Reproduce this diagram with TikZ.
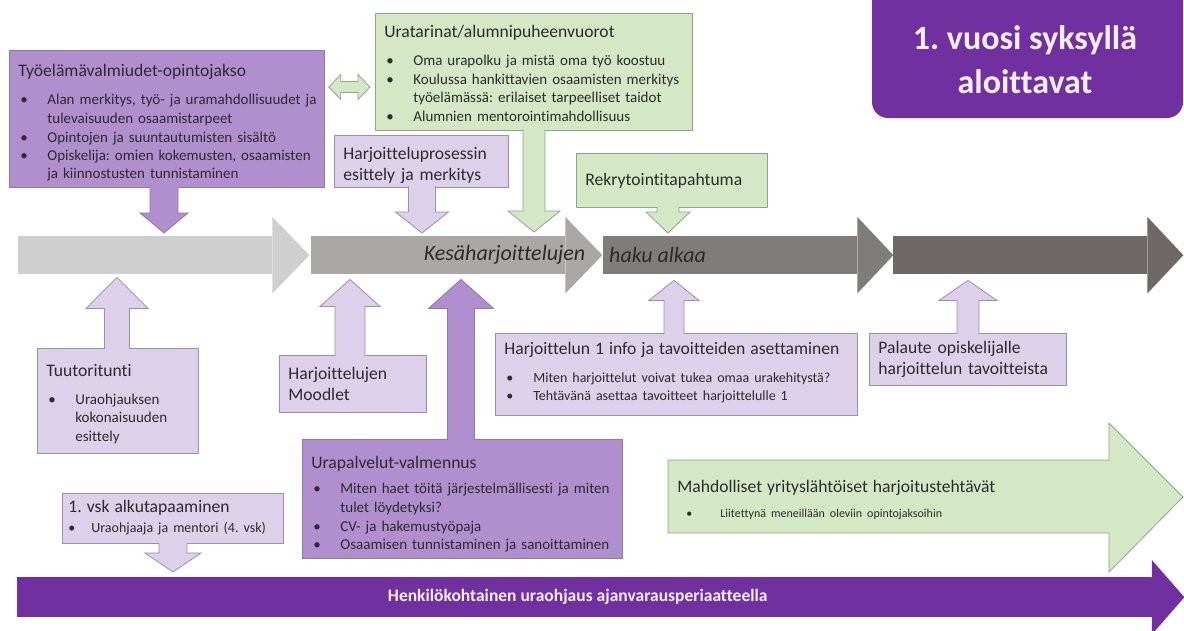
\documentclass[tikz,border=0pt]{standalone}
\usepackage{fontspec}
\setmainfont[Ligatures={NoCommon}]{Carlito}
\usepackage{tikz}
\usetikzlibrary{calc}
\definecolor{purmid}{HTML}{B18FCF}
\definecolor{purmidline}{HTML}{8A7BA6}
\definecolor{purlight}{HTML}{DDD0EA}
\definecolor{purlightline}{HTML}{9A8EB2}
\definecolor{grnlight}{HTML}{D5E8C5}
\definecolor{grnline}{HTML}{8FA68A}
\definecolor{purdark}{HTML}{7030A0}
\definecolor{tlone}{HTML}{D0CFCF}
\definecolor{tltwo}{HTML}{ABA7A7}
\definecolor{tlthree}{HTML}{7F7C7C}
\definecolor{tlfour}{HTML}{6F6868}
\definecolor{txtc}{HTML}{2B2B2B}
\definecolor{txtw}{HTML}{F4EFF8}
\frenchspacing

\newcommand{\bodyfont}{\fontsize{15}{18.3}\selectfont}
\newcommand{\hdfont}{\fontsize{17.6}{21.5}\selectfont}
\newcommand{\topgap}[1]{\rule{0pt}{\dimexpr 13pt+#1\relax}}
\newcommand{\hd}[2][10pt]{{\hdfont #2\par}\vspace{#1}}
\newcommand{\bulx}[3]{\par\noindent\hbox{\makebox[#2][l]{\hspace{#1}\textbullet}\begin{tabular}[t]{@{}l@{}}#3\end{tabular}}\par}
\newcommand{\bul}[1]{\bulx{2pt}{29pt}{#1}}
% block arrows: style, x, from, tip, shaft half, head half, head length
\newcommand{\dnblk}[7]{\draw[#1] let \p1=(#3), \p2=(#4) in
  ({#2pt-#5pt},\y1) -- ({#2pt-#5pt},{\y2+#7pt}) -- ({#2pt-#6pt},{\y2+#7pt}) -- (#2pt,\y2)
  -- ({#2pt+#6pt},{\y2+#7pt}) -- ({#2pt+#5pt},{\y2+#7pt}) -- ({#2pt+#5pt},\y1);}
\newcommand{\upblk}[7]{\draw[#1] let \p1=(#3), \p2=(#4) in
  ({#2pt-#5pt},\y1) -- ({#2pt-#5pt},{\y2-#7pt}) -- ({#2pt-#6pt},{\y2-#7pt}) -- (#2pt,\y2)
  -- ({#2pt+#6pt},{\y2-#7pt}) -- ({#2pt+#5pt},{\y2-#7pt}) -- ({#2pt+#5pt},\y1);}

\begin{document}
\begin{tikzpicture}[x=1pt, y=-1pt,
  box/.style={draw, anchor=north west, align=left, inner xsep=9pt, inner ysep=3pt, line width=0.8pt, font=\bodyfont, text=txtc},
  pm/.style={fill=purmid, draw=purmidline, line width=0.8pt},
  pl/.style={fill=purlight, draw=purlightline, line width=0.8pt},
  gr/.style={fill=grnlight, draw=grnline, line width=0.8pt},
  tl/.style={anchor=north west, inner sep=0pt, minimum height=38pt, minimum width=254pt},
  tltext/.style={font=\fontsize{22}{26}\selectfont\itshape, text=txtc, inner sep=0pt}
]
\path[use as bounding box, fill=white] (0,0) rectangle (1184,630);

% title
\fill[purdark, rounded corners=16pt] (872,-20) rectangle (1183,118);
\node[align=center, font=\fontsize{34}{44}\selectfont\bfseries, text=txtw] (E) at (1025,60) {1. vuosi syksyllä\\aloittavat};

% timeline
\node[tl, fill=tlone] (t1) at (18,236) {};
\node[tl, fill=tltwo] (t2) at (311,236) {};
\node[tl, fill=tlthree] (t3) at (603,236) {};
\node[tl, fill=tlfour] (t4) at (893,236) {};
\fill[tlone] ([yshift=19pt]t1.north east) -- ([xshift=37pt]t1.east) -- ([yshift=-19pt]t1.south east) -- cycle;
\fill[tltwo] ([yshift=19pt]t2.north east) -- ([xshift=37pt]t2.east) -- ([yshift=-19pt]t2.south east) -- cycle;
\fill[tlthree] ([yshift=19pt]t3.north east) -- ([xshift=36pt]t3.east) -- ([yshift=-19pt]t3.south east) -- cycle;
\fill[tlfour] ([yshift=19pt]t4.north east) -- ([xshift=36pt]t4.east) -- ([yshift=-19pt]t4.south east) -- cycle;
\node[tltext, anchor=east] (kesa) at ([xshift=20pt]t2.east) {Kesäharjoittelujen};
\node[tltext, anchor=west] (haku) at ([xshift=6pt]t3.west) {haku alkaa};

% boxes above
\node[box, pm, minimum width=315pt, minimum height=134pt, text width=297pt] (A) at (9,50)
  {\topgap{10pt}\hd{Työelämävalmiudet-opintojakso}\bul{Alan merkitys, työ- ja uramahdollisuudet ja\\tulevaisuuden osaamistarpeet}\bul{Opintojen ja suuntautumisten sisältö}\bul{Opiskelija: omien kokemusten, osaamisten\\ja kiinnostusten tunnistaminen}};
\node[box, gr, minimum width=317pt, minimum height=115pt, text width=299pt] (C) at (375,13)
  {\topgap{8pt}\hd{Uratarinat/alumnipuheenvuorot}\bul{Oma urapolku ja mistä oma työ koostuu}\bul{Koulussa hankittavien osaamisten merkitys\\työelämässä: erilaiset tarpeelliset taidot}\bul{Alumnien mentorointimahdollisuus}};
\node[box, pl, font=\hdfont, minimum width=174pt, minimum height=49pt, text width=156pt] (B) at (334,135)
  {\topgap{8pt}Harjoitteluprosessin\\esittely ja merkitys};
\node[box, gr, font=\hdfont, minimum width=191pt, minimum height=54pt, text width=173pt] (D) at (576,153)
  {Rekrytointitapahtuma};

% boxes below
\node[box, pl, minimum width=161pt, minimum height=105pt, text width=143pt] (F) at (37,348)
  {\topgap{8pt}\hd{Tuutoritunti}\bul{Uraohjauksen\\kokonaisuuden\\esittely}};
\node[box, pl, font=\hdfont, minimum width=147pt, minimum height=57pt, text width=129pt] (G) at (279,355)
  {Harjoittelujen\\Moodlet};
\node[box, pm, minimum width=320pt, minimum height=116pt, text width=302pt] (H) at (302,439)
  {\topgap{13pt}\hd[7pt]{Urapalvelut-valmennus}\bul{Miten haet töitä järjestelmällisesti ja miten\\tulet löydetyksi?}\bul{CV- ja hakemustyöpaja}\bul{Osaamisen tunnistaminen ja sanoittaminen}};
\node[box, pl, minimum width=362pt, minimum height=82pt, text width=344pt] (I) at (495,333)
  {\hd{Harjoittelun 1 info ja tavoitteiden asettaminen}{\fontsize{14}{18}\selectfont\bul{Miten harjoittelut voivat tukea omaa urakehitystä?}\bul{Tehtävänä asettaa tavoitteet harjoittelulle 1}}};
\node[box, pl, font=\hdfont, minimum width=197pt, minimum height=52pt, text width=179pt] (J) at (869,333)
  {Palaute opiskelijalle\\harjoittelun tavoitteista};
\node[box, pl, inner xsep=6pt, minimum width=221pt, minimum height=50pt, text width=209pt] (K) at (62,493)
  {\hd[4pt]{1. vsk alkutapaaminen}{\fontsize{14}{16}\selectfont\bulx{0pt}{23pt}{Uraohjaaja ja mentori (4. vsk)}}};

% green arrow
\draw[gr] (668,460) -- (1109,460) -- (1109,423) -- (1183,497) -- (1109,572) -- (1109,533) -- (668,533) -- cycle;
\node[box, draw=none, fill=none, minimum width=441pt, minimum height=73pt, text width=423pt] (L) at (668,460)
  {\topgap{8pt}\hd{Mahdolliset yrityslähtöiset harjoitustehtävät}{\fontsize{12}{14.5}\selectfont\bulx{9pt}{43pt}{Liitettynä meneillään oleviin opintojaksoihin}}};

% bottom bar
\node[anchor=north west, fill=purdark, minimum width=1135pt, minimum height=40pt, inner sep=0pt, text=txtw] (bar) at (17,577) {};
\node[font=\fontsize{17.5}{20}\selectfont\bfseries, text=txtw] (bartext) at ([xshift=-7pt]bar.center) {Henkilökohtainen uraohjaus ajanvarausperiaatteella};
\fill[purdark] ([xshift=-0.5pt, yshift=17pt]bar.north east) -- ([xshift=32pt]bar.east) -- ([xshift=-0.5pt, yshift=-17pt]bar.south east) -- cycle;

% connectors
\draw[gr] let \p1=(A.east), \p2=(C.west) in
  ({\x1+4pt},-87pt) -- ({\x1+16pt},-74.5pt) -- ({\x1+16pt},-81.5pt) -- ({\x2-17pt},-81.5pt) -- ({\x2-17pt},-74.5pt)
  -- ({\x2-5pt},-87pt) -- ({\x2-17pt},-99.5pt) -- ({\x2-17pt},-92.5pt) -- ({\x1+16pt},-92.5pt) -- ({\x1+16pt},-99.5pt) -- cycle;
\dnblk{pm}{164}{[yshift=1pt]A.south}{[yshift=3pt]t1.north}{14}{24}{20}
\dnblk{pl}{422}{[yshift=1pt]B.south}{[yshift=3pt]t2.north}{13.5}{26.5}{21}
\dnblk{gr}{534}{[yshift=1pt]C.south}{[yshift=4pt]t2.north}{11}{26}{21}
\dnblk{gr}{668}{[yshift=1pt]D.south}{[yshift=3pt]t3.north}{11}{22}{21}
\upblk{pl}{117}{[yshift=-1pt]F.north}{[yshift=-3pt]t1.south}{12.5}{31}{31}
\upblk{pl}{350}{[yshift=-1pt]G.north}{[yshift=-5pt]t2.south}{15}{30}{27}
\upblk{pm}{461}{[yshift=-1pt]H.north}{[yshift=-5pt]t2.south}{13.5}{32.5}{29}
\upblk{pl}{674}{[yshift=-1pt]I.north}{[yshift=-6pt]t3.south}{10}{25}{20}
\upblk{pl}{968}{[yshift=-1pt]J.north}{[yshift=-6pt]t4.south}{11}{29}{20}
\dnblk{pl}{173}{[yshift=1pt]K.south}{[yshift=5pt]bar.north}{14}{28}{19}
\end{tikzpicture}
\end{document}
